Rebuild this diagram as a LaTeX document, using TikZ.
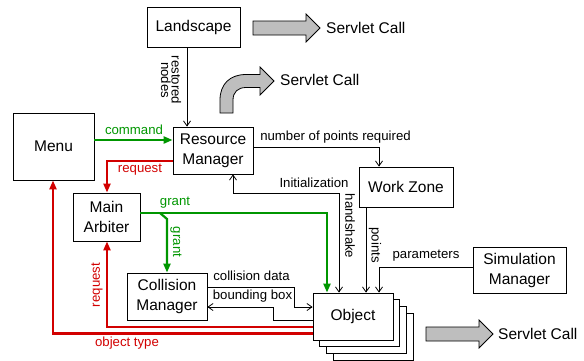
\documentclass[tikz,border=0pt]{standalone}
\usepackage{fontspec}
\setmainfont{Liberation Sans}
\usetikzlibrary{arrows.meta}

\definecolor{flowgreen}{RGB}{0,150,0}
\definecolor{flowred}{RGB}{210,0,0}
\definecolor{callgray}{RGB}{190,190,190}

\tikzset{
  block/.style={draw, line width=0.8pt, fill=white, align=center, inner sep=0pt,
    font=\fontsize{15.5}{20}\selectfont},
  lbl/.style={inner sep=0pt, font=\fontsize{13.2}{15}\selectfont},
  thin arrow/.style={draw, line width=0.8pt, -{Straight Barb[length=5pt,width=7pt]}},
  thin both/.style={draw, line width=0.8pt, {Straight Barb[length=5pt,width=7pt]}-{Straight Barb[length=5pt,width=7pt]}},
  green arrow/.style={draw=flowgreen, line width=2.2pt, -{Triangle[length=9pt,width=7pt]}},
  red arrow/.style={draw=flowred, line width=2.2pt, -{Triangle[length=9pt,width=7pt]}},
  call/.style={draw, line width=0.8pt, fill=callgray},
  calltext/.style={inner sep=0pt, anchor=west, font=\fontsize{15.5}{18}\selectfont},
}

\begin{document}
\begin{tikzpicture}[x=1pt, y=-1pt]
\useasboundingbox (0,0) rectangle (584,360);

% blocks
\node[block, minimum width=93pt, minimum height=40pt] (land) at (193.5,27) {Landscape};
\node[block, minimum width=81pt, minimum height=67pt] (menu) at (53.5,146.5) {Menu};
\node[block, minimum width=80pt, minimum height=47pt] (rm) at (213,150.5) {Resource\\Manager};
\node[block, minimum width=67pt, minimum height=48pt] (ma) at (106.5,217) {Main\\Arbiter};
\node[block, minimum width=80pt, minimum height=47pt] (cm) at (167,296.5) {Collision\\Manager};
\node[block, minimum width=94pt, minimum height=40pt] (wz) at (406,187) {Work Zone};
\node[block, minimum width=93pt, minimum height=46pt] (sm) at (519.5,270) {Simulation\\Manager};

% stack of objects, back to front
\node[block, minimum width=80pt, minimum height=47pt] (obj3) at (373,336.5) {};
\node[block, minimum width=80pt, minimum height=47pt] (obj2) at (366.3,329.8) {};
\node[block, minimum width=80pt, minimum height=47pt] (obj1) at (359.7,323.2) {};
\node[block, minimum width=80pt, minimum height=47pt] (obj) at (353,316.5) {Object};

% servlet calls
\draw[call] (253,21) -- (306,21) -- (306,14) -- (320,28) -- (306,42) -- (306,35) -- (253,35) -- cycle;
\node[calltext] (call1) at (326,28) {Servlet Call};
\draw[call] (220,113) -- (220,100) .. controls (220,84) and (230,74.5) .. (246,74.5)
  -- (260,74.5) -- (260,67) -- (274,81) -- (260,95) -- (260,87.5) -- (246,87.5)
  .. controls (238,87.5) and (233,92) .. (233,100) -- (233,113) -- cycle;
\node[calltext] (call2) at (280,80) {Servlet Call};
\draw[call] (426,327) -- (479,327) -- (479,320) -- (493,334) -- (479,348) -- (479,341) -- (426,341) -- cycle;
\node[calltext] (call3) at (498,334) {Servlet Call};

% landscape to resource manager
\draw[thin arrow] (land.south -| 187,0) -- (rm.north -| 187,0);
\node[lbl, rotate=-90, align=center, font=\fontsize{13.2}{10.5}\selectfont] (restored) at (171,80) {restored\\nodes};

% menu, arbiter and resource manager
\draw[green arrow] (menu.east |- 0,140) -- (rm.west |- 0,140);
\node[lbl, text=flowgreen] (command) at (134,130) {command};
\draw[red arrow] (rm.west |- 0,161) -- (107,161) -- (ma.north -| 107,0);
\node[lbl, text=flowred] (req1) at (140,170) {request};

% grants
\draw[green arrow] (ma.east |- 0,213) -- (327,213) -- (obj.north -| 327,0);
\node[lbl, text=flowgreen] (grant1) at (175,203) {grant};
\draw[green arrow] (160,213) -- (167,219) -- (cm.north -| 167,0);
\node[lbl, text=flowgreen, rotate=-90] (grant2) at (176,242) {grant};

% requests from objects
\draw[red arrow] (obj.west |- 0,327) -- (107,327) -- (ma.south -| 107,0);
\node[lbl, text=flowred, rotate=90] (req2) at (97,285) {request};
\draw[red arrow] (obj.west |- 0,333.5) -- (53,333.5) -- (menu.south -| 53,0);
\node[lbl, text=flowred] (otype) at (127,343) {object type};

% resource manager, work zone, simulation manager
\draw[thin arrow] (rm.east |- 0,147) -- (379,147) -- (wz.north -| 379,0);
\node[lbl] (npoints) at (335.5,137) {number of points required};
\draw[thin both] (rm.south -| 233,0) -- (233,193) -- (339,193) -- (obj.north -| 339,0);
\node[lbl] (init) at (314,183) {Initialization};
\node[lbl, rotate=-90] (hand) at (350,226) {handshake};
\draw[thin arrow] (wz.south -| 366,0) -- (obj.north -| 366,0);
\node[lbl, rotate=-90] (points) at (375,245) {points};
\draw[thin arrow] (sm.west |- 0,267) -- (379,267) -- (obj.north -| 379,0);
\node[lbl] (params) at (426,256) {parameters};

% collision manager and objects
\draw[thin arrow] (cm.east |- 0,287) -- (294,287) -- (294,307) -- (obj.west |- 0,307);
\node[lbl] (cdata) at (251.5,276) {collision data};
\draw[thin arrow] (obj.west |- 0,320) -- (273,320) -- (273,307) -- (cm.east |- 0,307);
\node[lbl] (bbox) at (252.5,296) {bounding box};
\end{tikzpicture}
\end{document}
